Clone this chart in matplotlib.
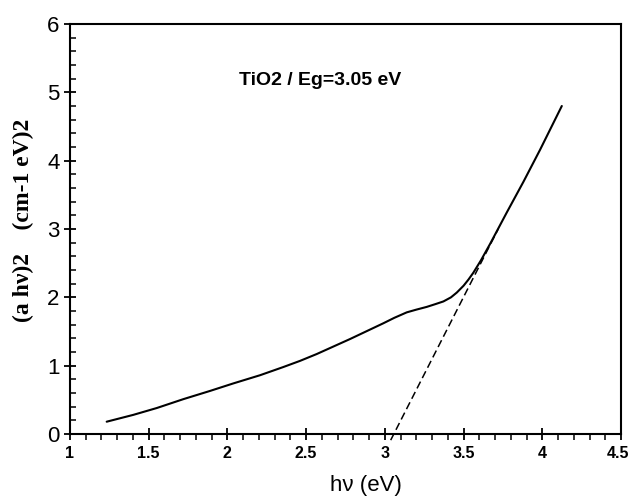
import matplotlib
matplotlib.use("Agg")
import matplotlib.pyplot as plt
from matplotlib.ticker import MultipleLocator
import matplotlib.transforms as mtransforms

# Measured curve (photon energy in eV, (a h nu)^2)
hv = [1.233, 1.402, 1.551, 1.720, 1.889, 2.037, 2.207, 2.355, 2.461, 2.567, 2.779,
      2.99, 3.06, 3.139, 3.20, 3.266, 3.32, 3.372, 3.42, 3.457, 3.50, 3.531, 3.562,
      3.61, 3.668, 3.774, 3.880, 3.986, 4.124]
ahv2 = [0.18, 0.28, 0.38, 0.51, 0.63, 0.74, 0.86, 0.98, 1.07, 1.17, 1.39,
        1.62, 1.70, 1.78, 1.82, 1.86, 1.90, 1.94, 2.00, 2.07, 2.17, 2.26, 2.36,
        2.54, 2.78, 3.24, 3.69, 4.16, 4.80]

# Tangent (extrapolation) line
tan_x = [3.037, 3.72]
tan_y = [-0.09, 3.0]

xticks = [1, 1.5, 2, 2.5, 3, 3.5, 4, 4.5]
xticklabels = ["1", "1.5", "2", "2.5", "3", "3.5", "4", "4.5"]
yticks = [0, 1, 2, 3, 4, 5, 6]

W, H = 633, 499
fig = plt.figure(figsize=(W / 100, H / 100), dpi=100)
ax = fig.add_axes([70 / W, 1 - 434 / H, (621 - 70) / W, (434 - 24) / H])

ax.plot(hv, ahv2, color="black", lw=1.5, solid_capstyle="round", solid_joinstyle="round")
ax.plot(tan_x, tan_y, color="black", lw=1.1, dashes=(5, 2.6), clip_on=False)

ax.set_xlim(1, 4.5)
ax.set_ylim(0, 6)
ax.set_xticks(xticks)
ax.set_xticklabels(xticklabels)
ax.set_yticks(yticks)
ax.xaxis.set_minor_locator(MultipleLocator(0.1))
ax.yaxis.set_minor_locator(MultipleLocator(0.2))

for s in ax.spines.values():
    s.set_linewidth(1.5)

ax.tick_params(axis="x", which="major", direction="inout", length=9, width=1.3, pad=4)
ax.tick_params(axis="x", which="minor", direction="out", length=4, width=1.1)
ax.tick_params(axis="y", which="major", direction="inout", length=9, width=1.3, pad=3)
ax.tick_params(axis="y", which="minor", direction="in", length=4, width=1.1)

for lab in ax.get_xticklabels():
    lab.set_fontfamily(["Liberation Sans"])
    lab.set_fontweight("bold")
    lab.set_fontsize(11.5)
last = ax.get_xticklabels()[-1]
last.set_transform(last.get_transform() + mtransforms.ScaledTranslation(-3 / 100, 0, fig.dpi_scale_trans))
for lab in ax.get_yticklabels():
    lab.set_fontfamily(["Liberation Sans"])
    lab.set_fontsize(16)

fig.text(366 / W, 1 - 486 / H, "hν (eV)", fontsize=16, family=["Liberation Sans", "DejaVu Sans"],
         ha="center", va="center")
fig.text(23 / W, 1 - 220 / H, "(a hν)2    (cm-1 eV)2", fontsize=17,
         family=["Liberation Serif", "DejaVu Serif"], fontweight="bold",
         rotation=90, ha="center", va="center")

ax.text(2.588, 5.18, "TiO2 / Eg=3.05 eV", fontsize=14, fontweight="bold",
        family=["Liberation Sans", "DejaVu Sans"], ha="center", va="center")

fig.savefig("out.png", dpi=100)
